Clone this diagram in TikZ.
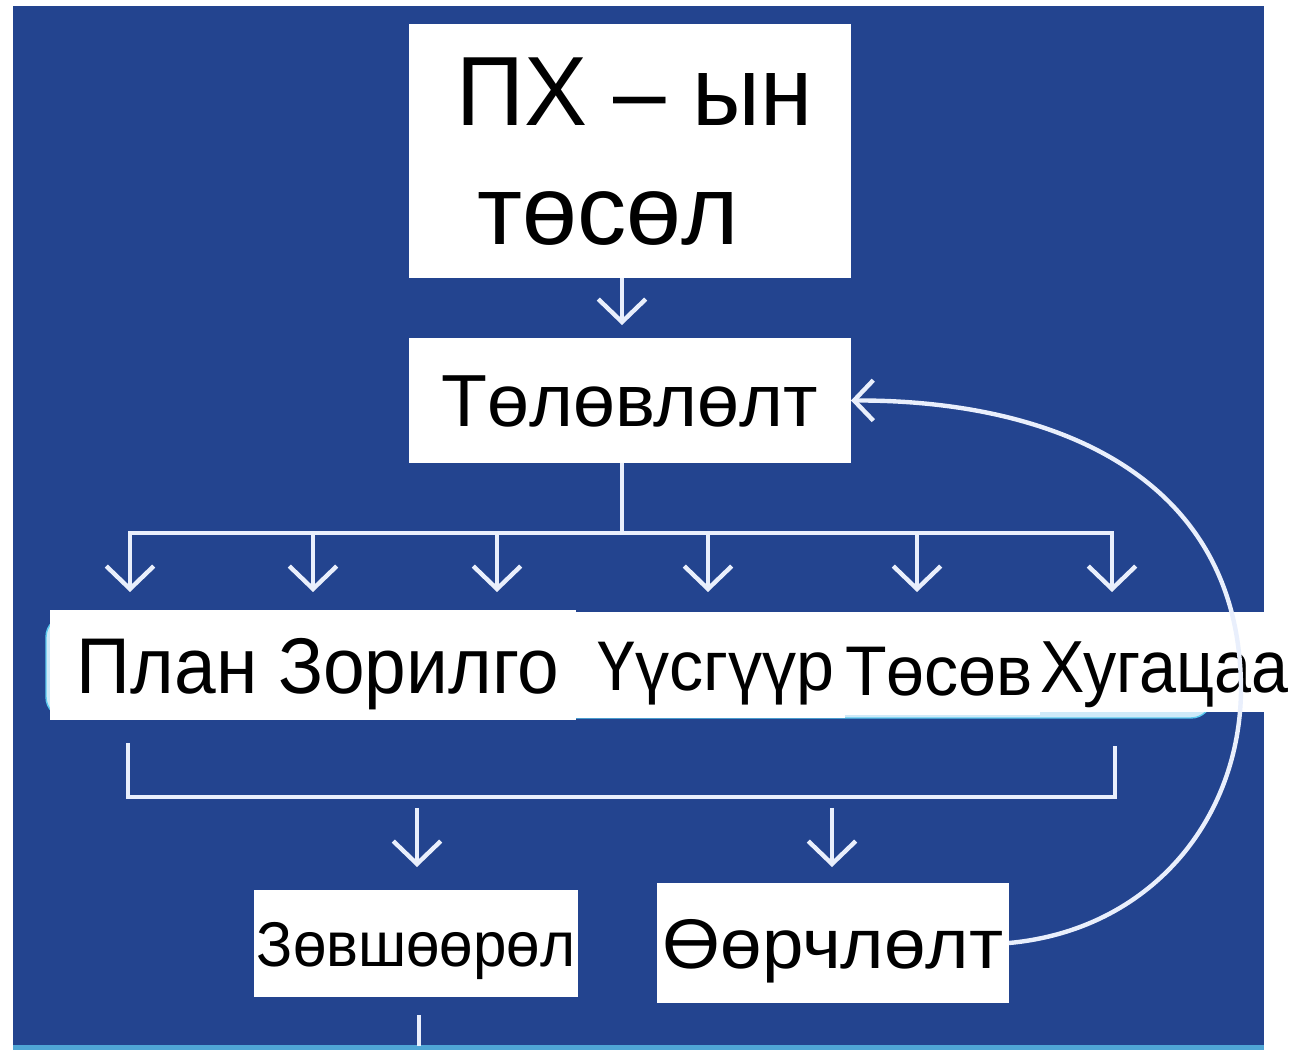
\documentclass[tikz,border=0pt]{standalone}
\usepackage{fontspec}
\setmainfont{Liberation Sans}
\usetikzlibrary{arrows.meta}
\definecolor{slide}{HTML}{23448F}
\definecolor{flowline}{HTML}{E9EFFC}
\definecolor{strip}{HTML}{4FA6D6}
\definecolor{glow}{HTML}{CFEAF8}
\definecolor{glowedge}{HTML}{5CCBEF}
\newcommand{\narrow}[2]{\scalebox{#1}[1]{#2}}
\tikzset{
  box/.style={fill=white, inner sep=0pt, outer sep=0pt, text depth=0pt, align=center},
  flow/.style={draw=flowline, line width=2.5pt},
  drop/.style={flow, -{Straight Barb[length=13pt,width=27pt]}},
  back/.style={flow, -{Straight Barb[length=11pt,width=23pt]}},
}
\begin{document}
\begin{tikzpicture}[x=0.02cm, y=-0.02cm]
  \useasboundingbox (0,0) rectangle (1289,1050);
  % page and slide background
  \fill[white] (0,0) rectangle (1289,1050);
  \fill[slide] (13,6) rectangle (1264,1045);
  \fill[strip] (13,1045) rectangle (1264,1050);

  % soft band behind the row of terms
  \draw[glowedge, fill=glow, line width=0.8pt, rounded corners=12pt] (46,616) rectangle (1212,718);

  % boxes
  \node[box, minimum width=8.84cm, minimum height=5.08cm, align=left,
        font=\fontsize{56}{68}\selectfont] (pxb) at (630,151)
    {\hspace*{5pt}\narrow{0.96}{ПХ – ын}\\\hspace*{17pt}төсөл};
  \node[box, minimum width=8.84cm, minimum height=2.5cm, text height=30.1pt,
        font=\fontsize{42}{50}\selectfont] (tel) at (630,400.5)
    {\narrow{1.02}{Төлөвлөлт}};

  \node[box, minimum width=10.52cm, minimum height=2.2cm, text height=32.2pt,
        font=\fontsize{45}{50}\selectfont] (plan) at (313,665)
    {\hspace*{6pt}\narrow{0.947}{План Зорилго}};
  \node[box, minimum width=5.38cm, minimum height=2.12cm, text height=28.6pt,
        font=\fontsize{40}{48}\selectfont] (uus) at (710.5,665)
    {\hspace*{6pt}\narrow{0.97}{Үүсгүүр}};
  \node[box, minimum width=3.9cm, minimum height=2.06cm, text height=36pt,
        font=\fontsize{40}{48}\selectfont] (tos) at (942.5,663.5)
    {\hspace*{-4pt}\narrow{0.97}{Төсөв}};
  \node[box, minimum width=4.98cm, minimum height=2.0cm, text height=35.2pt,
        font=\fontsize{42}{48}\selectfont] (hug) at (1164.5,662)
    {\narrow{0.9}{Хугацаа}};

  \node[box, minimum width=6.48cm, minimum height=2.14cm, text height=25.8pt,
        font=\fontsize{36}{42}\selectfont] (zov) at (416,943.5)
    {\narrow{0.95}{Зөвшөөрөл}};
  \node[box, minimum width=7.04cm, minimum height=2.4cm, text height=28.6pt,
        font=\fontsize{40}{48}\selectfont] (oor) at (833,943)
    {\narrow{1.06}{Өөрчлөлт}};

  % main spine
  \coordinate (spine) at (622,0);
  \draw[drop, shorten >=7.4pt] (pxb.south -| spine) -- (tel.north -| spine);

  % distribution bus with six drops
  \coordinate (busL) at (130,533);
  \coordinate (busR) at (1112,533);
  \draw[flow] (tel.south -| spine) -- (spine |- busL);
  \draw[flow, line cap=rect] (busL) -- (busR);
  \foreach \x [count=\i] in {130,313,497,708,917,1112} {
    \coordinate (t\i) at (\x,533);
    \coordinate (h\i) at (\x,592);
    \draw[drop] (t\i) -- (h\i);
  }

  % collecting bracket
  \coordinate (bl) at (128,743);
  \coordinate (br) at (1115,746);
  \coordinate (bb) at (0,797);
  \draw[flow] (bl) -- (bl |- bb) -- (br |- bb) -- (br);
  \coordinate (a1) at (417,808);
  \coordinate (a2) at (832,808);
  \coordinate (e1) at (417,867);
  \coordinate (e2) at (832,867);
  \draw[drop] (a1) -- (e1);
  \draw[drop] (a2) -- (e2);

  % tail below the approval box
  \coordinate (tailA) at (419,1015);
  \coordinate (tailB) at (419,1046);
  \draw[flow] (tailA) -- (tailB);

  % feedback loop from changes back to planning
  \draw[back] (oor.east) .. controls (1150,930) and (1240,820) .. (1241,690)
    .. controls (1241,480) and (1060,400) .. (tel.east);
\end{tikzpicture}
\end{document}
